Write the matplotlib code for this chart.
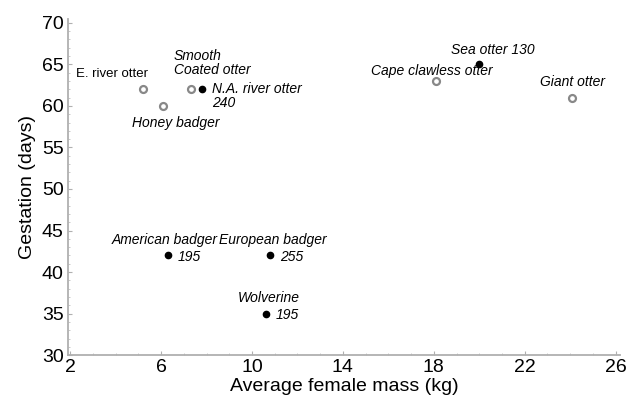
import matplotlib
matplotlib.use("Agg")
import matplotlib.pyplot as plt
from matplotlib.ticker import MultipleLocator

plt.rcParams["font.family"] = ["Liberation Sans", "DejaVu Sans"]

# ── Data ──────────────────────────────────────────────────────────────────────
species = [
    "E. river otter", "Smooth\nCoated otter", "N.A. river otter", "Honey badger",
    "Sea otter", "Cape clawless otter", "Giant otter",
    "American badger", "European badger", "Wolverine",
]
mass = [5.2, 7.3, 7.8, 6.1, 20.0, 18.1, 24.1, 6.3, 10.8, 10.6]
gestation = [62, 62, 62, 60, 65, 63, 61, 42, 42, 35]
filled = [False, False, True, False, True, False, False, True, True, True]
extra = ["", "", "240", "", "", "", "", "195", "255", "195"]

# label placement (offset points, alignment) per species
label_pos = {
    "E. river otter":      ((4, 7), "right", "bottom"),
    "Smooth\nCoated otter": ((-12, 9), "left", "bottom"),
    "N.A. river otter":    ((7, 0), "left", "center"),
    "Honey badger":        ((9, -7), "center", "top"),
    "Sea otter":           ((10, 5), "center", "bottom"),
    "Cape clawless otter": ((-3, 2), "center", "bottom"),
    "Giant otter":         ((0, 6), "center", "bottom"),
    "American badger":     ((-2, 6), "center", "bottom"),
    "European badger":     ((2, 6), "center", "bottom"),
    "Wolverine":           ((2, 6), "center", "bottom"),
}

fig = plt.figure(figsize=(6.29, 4.05), dpi=100)
ax = fig.add_axes([0.108, 0.123, 0.878, 0.831])

for name, x, y, f, ex in zip(species, mass, gestation, filled, extra):
    if f:
        ax.plot(x, y, "o", ms=4.5, color="black", mec="black", zorder=3)
    else:
        ax.plot(x, y, "o", ms=5, mfc="white", mec="#888888", mew=1.6, zorder=3)

    (dx, dy), ha, va = label_pos[name]
    txt = name
    if name == "Sea otter":
        txt = "Sea otter 130"
    style = "normal" if name == "E. river otter" else "italic"
    size = 9.5 if name == "E. river otter" else 10
    ax.annotate(txt, (x, y), xytext=(dx, dy), textcoords="offset points",
                ha=ha, va=va, fontsize=size, style=style, linespacing=1.0)

    if ex and name == "N.A. river otter":
        ax.annotate(ex, (x, y), xytext=(7, -10), textcoords="offset points",
                    ha="left", va="center", fontsize=10, style="italic")
    elif ex:
        ax.annotate(ex, (x, y), xytext=(7, -1), textcoords="offset points",
                    ha="left", va="center", fontsize=10, style="italic")

ax.set_xlim(1.9, 26.2)
ax.set_ylim(30, 70.5)
ax.set_xticks([2, 6, 10, 14, 18, 22, 26])
ax.set_yticks(range(30, 71, 5))
ax.xaxis.set_minor_locator(MultipleLocator(1))
ax.yaxis.set_minor_locator(MultipleLocator(1))

for side in ["top", "right"]:
    ax.spines[side].set_visible(False)
for side in ["left", "bottom"]:
    ax.spines[side].set_color("#b0b0b0")
    ax.spines[side].set_linewidth(1.3)

ax.tick_params(which="major", direction="in", length=3, color="#b0b0b0",
               labelsize=14, pad=3)
ax.tick_params(which="minor", direction="in", length=1.5, color="#c0c0c0")

ax.set_xlabel("Average female mass (kg)", fontsize=14, labelpad=1)
ax.set_ylabel("Gestation (days)", fontsize=14, labelpad=4)

fig.savefig("out.png", dpi=100)
